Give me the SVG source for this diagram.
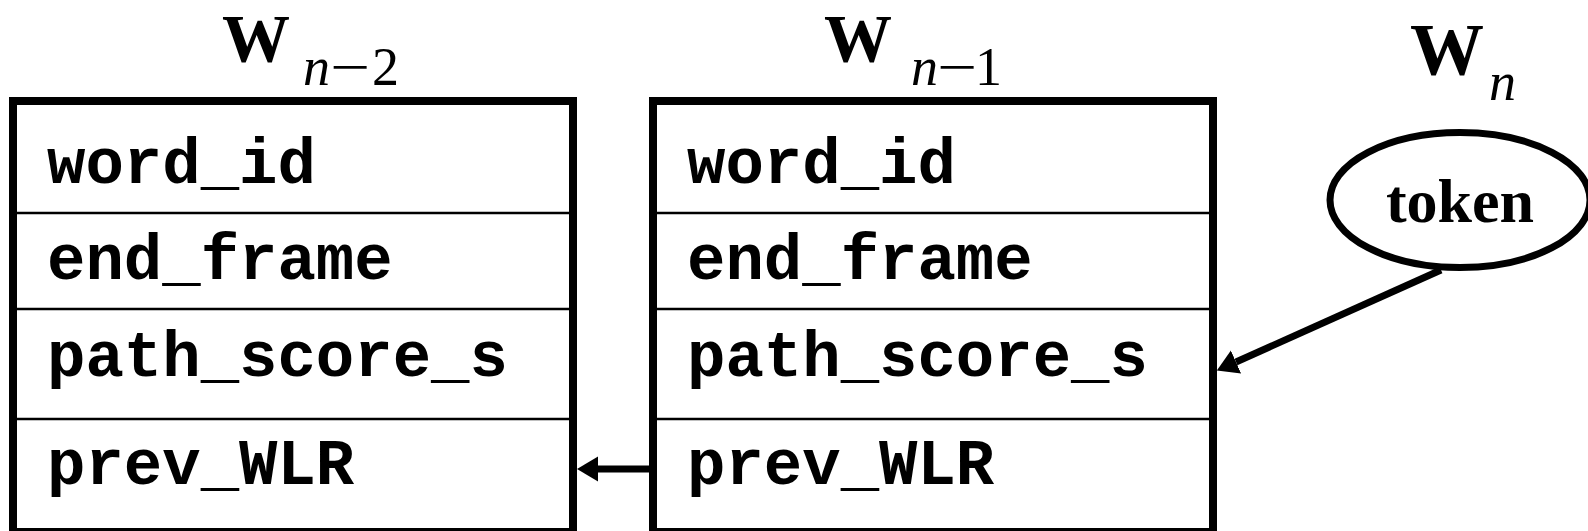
<svg xmlns="http://www.w3.org/2000/svg" width="1588" height="531" viewBox="0 0 1588 531">
<style>
.box{fill:#fff;stroke:#000;stroke-width:8}
.div{stroke:#000;stroke-width:2.5}
.fld{font-family:"Liberation Mono","Courier New",monospace;font-weight:bold;font-size:64px;fill:#000}
.ttl{font-family:"Liberation Serif","Times New Roman",serif;fill:#000}
.W{font-weight:bold;font-size:68px}
.Wn{font-weight:bold;font-size:74px}
.sub{font-size:54px}
.it{font-style:italic}
.tok{font-family:"Liberation Serif","Times New Roman",serif;font-weight:bold;font-size:62px;fill:#000}
.conn{stroke:#000;stroke-width:7;fill:none}
</style>
<defs>
<marker id="ah" markerUnits="userSpaceOnUse" markerWidth="24" markerHeight="28" viewBox="0 -14 24 28" refX="0" refY="0" orient="auto">
<path d="M0,-12.5 L21,0 L0,12.5 Z" fill="#000"/>
</marker>
</defs>
<rect width="1588" height="531" fill="#fff"/>
<g id="node-w-n-2">
<text class="ttl"><tspan class="W" x="222" y="61">W</tspan><tspan class="sub it" x="303" y="85">n</tspan><tspan class="sub" x="330" y="85" textLength="40" lengthAdjust="spacingAndGlyphs">−</tspan><tspan class="sub" x="372" y="85">2</tspan></text>
<rect class="box" x="13" y="101" width="560" height="431"/>
<line class="div" x1="13" y1="213" x2="573" y2="213"/>
<line class="div" x1="13" y1="309" x2="573" y2="309"/>
<line class="div" x1="13" y1="419" x2="573" y2="419"/>
<text class="fld" x="47" y="183">word_id</text>
<text class="fld" x="47" y="279">end_frame</text>
<text class="fld" x="47" y="376">path_score_s</text>
<text class="fld" x="47" y="484">prev_WLR</text>
</g>
<g id="node-w-n-1">
<text class="ttl"><tspan class="W" x="824" y="61">W</tspan><tspan class="sub it" x="911" y="85">n</tspan><tspan class="sub" x="937" y="85" textLength="40" lengthAdjust="spacingAndGlyphs">−</tspan><tspan class="sub" x="975" y="85">1</tspan></text>
<rect class="box" x="653" y="101" width="560" height="431"/>
<line class="div" x1="653" y1="213" x2="1213" y2="213"/>
<line class="div" x1="653" y1="309" x2="1213" y2="309"/>
<line class="div" x1="653" y1="419" x2="1213" y2="419"/>
<text class="fld" x="687" y="183">word_id</text>
<text class="fld" x="687" y="279">end_frame</text>
<text class="fld" x="687" y="376">path_score_s</text>
<text class="fld" x="687" y="484">prev_WLR</text>
</g>
<g id="node-w-n">
<text class="ttl"><tspan class="Wn" x="1410" y="75">W</tspan><tspan class="sub it" x="1489" y="99.5">n</tspan></text>
<ellipse cx="1460" cy="200" rx="130" ry="67.5" fill="#fff" stroke="#000" stroke-width="7"/>
<text class="tok" x="1460" y="222" text-anchor="middle">token</text>
</g>
<g id="connectors">
<line class="conn" x1="649" y1="469" x2="598" y2="469" marker-end="url(#ah)"/>
<line class="conn" x1="1441" y1="270" x2="1236" y2="362" marker-end="url(#ah)"/>
</g>
</svg>
